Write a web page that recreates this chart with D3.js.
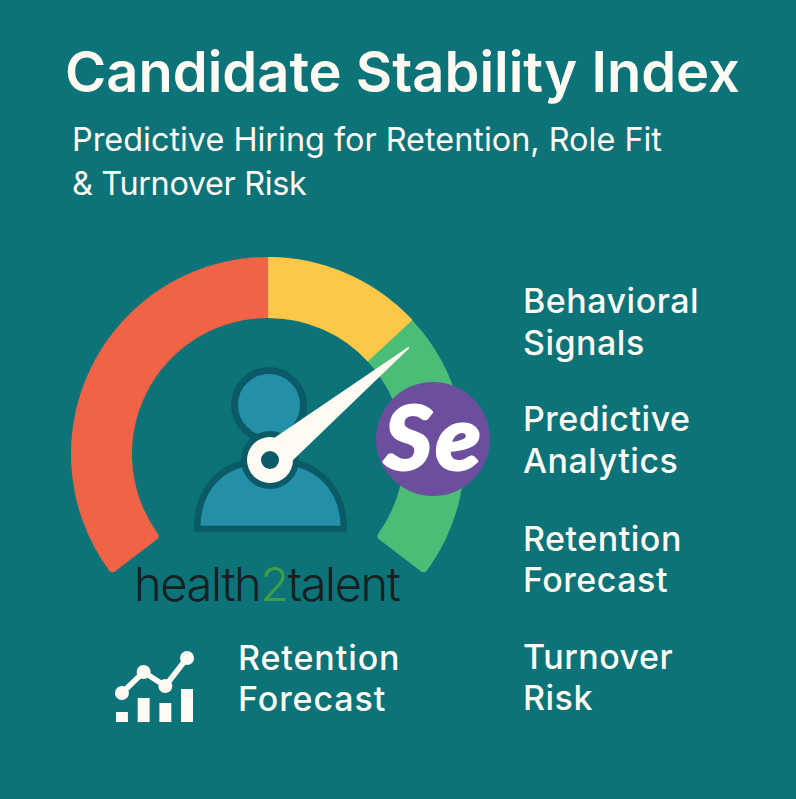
<!DOCTYPE html>
<html>
<head>
<meta charset="utf-8">
<script src="https://cdn.jsdelivr.net/npm/d3@7"></script>
<style>
html, body { margin: 0; padding: 0; background: #0c7378; }
svg { display: block; }
text { font-family: Inter, "Open Sans", sans-serif; }
</style>
</head>
<body>
<div id="viz"></div>
<script>
var titleText = "Candidate Stability Index";
var subtitleLines = ["Predictive Hiring for Retention, Role Fit", "& Turnover Risk"];
var sideLabels = ["Behavioral", "Signals", "Predictive", "Analytics", "Retention", "Forecast", "Turnover", "Risk"];
var iconLabels = ["Retention", "Forecast"];

// gauge bands on a 0-100 score
var bandStarts = [0, 50, 68.5];
var bandEnds = [50, 68.5, 100];
var bandColors = ["#f06346", "#fdc748", "#4bbd76"];
var needleScore = 70;

// small icon, bottom left
var iconBarValues = [10, 24, 19, 33];
var iconLineValues = [29, 50, 36, 64];

var width = 796,
	height = 799,
	white = "#fffaf2",
	darkTeal = "#0a5a68",
	personBlue = "#2390a8";

var svg = d3.select("#viz")
	.append("svg")
	.attr("width", width)
	.attr("height", height)
	.style("background-color", "#0c7378");

// Title and subtitle
svg.append("text")
	.attr("x", 65)
	.attr("y", 92)
	.style("font-size", "56px")
	.style("font-weight", 600)
	.style("fill", white)
	.text(titleText);

svg.selectAll(".subtitle")
	.data(subtitleLines)
	.enter()
	.append("text")
	.attr("class", "subtitle")
	.attr("x", 72)
	.attr("y", (d, i) => 151 + i * 44)
	.style("font-size", "32.4px")
	.style("letter-spacing", (d, i) => i ? "-0.35px" : null)
	.style("fill", white)
	.text(d => d);

// Gauge
var gaugeAngle = d3.scaleLinear([0, 100], [-127.5 * Math.PI / 180, 127.5 * Math.PI / 180]);
var arc = d3.arc().innerRadius(136).outerRadius(197);
var gauge = svg.append("g").attr("transform", "translate(268,454)");

// red and green overshoot under yellow so only the outer ends get rounded
gauge.append("path")
	.attr("d", arc.cornerRadius(4)({startAngle: gaugeAngle(bandStarts[0]), endAngle: gaugeAngle(bandEnds[0] + 3)}))
	.style("fill", bandColors[0]);
gauge.append("path")
	.attr("d", arc.cornerRadius(4)({startAngle: gaugeAngle(bandStarts[2] - 3), endAngle: gaugeAngle(bandEnds[2])}))
	.style("fill", bandColors[2]);
gauge.append("path")
	.attr("d", arc.cornerRadius(0)({startAngle: gaugeAngle(bandStarts[1]), endAngle: gaugeAngle(bandEnds[1])}))
	.style("fill", bandColors[1]);

// Person
svg.append("circle")
	.attr("cx", 269)
	.attr("cy", 405)
	.attr("r", 34.5)
	.style("fill", personBlue)
	.style("stroke", darkTeal)
	.style("stroke-width", 7);

svg.append("path")
	.attr("d", "M197,529 C197,495 215,470 245,463 L295,463 C325,470 344,495 344,529 Z")
	.style("fill", personBlue)
	.style("stroke", darkTeal)
	.style("stroke-width", 6.5)
	.style("stroke-linejoin", "round");

// Needle and hub
var hub = svg.append("g").attr("transform", "translate(270,460)");

hub.append("circle").attr("r", 29).style("fill", darkTeal);

var needle = d3.path();
needle.moveTo(-14.5, -18);
needle.lineTo(-0.8, -178);
needle.quadraticCurveTo(0, -180, 0.8, -178);
needle.lineTo(14.5, -18);
needle.closePath();

hub.append("path")
	.attr("d", needle.toString())
	.attr("transform", `rotate(${gaugeAngle(needleScore) * 180 / Math.PI})`)
	.style("fill", white);

hub.append("circle").attr("r", 23).style("fill", white);
hub.append("circle").attr("r", 9).style("fill", darkTeal);

// Se badge
svg.append("circle")
	.attr("cx", 433)
	.attr("cy", 439)
	.attr("r", 57)
	.style("fill", "#6b4e9e");

svg.append("text")
	.attr("transform", "translate(434,470) scale(1.04,1)")
	.attr("text-anchor", "middle")
	.style("font-family", "Lato, sans-serif")
	.style("font-size", "90px")
	.style("font-weight", 900)
	.style("font-style", "italic")
	.style("letter-spacing", "3px")
	.style("fill", "white")
	.style("stroke", "white")
	.style("stroke-width", 2)
	.style("stroke-linejoin", "round")
	.text("Se");

// health2talent logo
var logo = svg.append("text")
	.attr("x", 134)
	.attr("y", 601)
	.style("font-size", "47px")
	.style("font-weight", 300)
	.style("letter-spacing", "-1.4px")
	.style("fill", "#17201f");
logo.append("tspan").text("health");
logo.append("tspan").style("fill", "#3f9e45").text("2");
logo.append("tspan").text("talent");

// Right column labels
var labelBaselines = [313, 355, 431, 473, 551, 592, 669, 710];
svg.selectAll(".side-label")
	.data(sideLabels)
	.enter()
	.append("text")
	.attr("class", "side-label")
	.attr("x", 523)
	.attr("y", (d, i) => labelBaselines[i])
	.style("font-size", "34px")
	.style("font-weight", 500)
	.style("letter-spacing", "0.5px")
	.style("fill", white)
	.text(d => d);

svg.selectAll(".icon-label")
	.data(iconLabels)
	.enter()
	.append("text")
	.attr("class", "icon-label")
	.attr("x", 238)
	.attr("y", (d, i) => 670 + i * 41)
	.style("font-size", "34px")
	.style("font-weight", 500)
	.style("letter-spacing", "0.9px")
	.style("fill", white)
	.text(d => d);

// Chart icon
var iconX = d3.scaleBand(d3.range(iconBarValues.length), [116, 193]).paddingInner(0.45);
var iconY = d3.scaleLinear([0, 64], [722, 658]);
var iconLine = d3.line()
	.x((d, i) => iconX(i) + iconX.bandwidth() / 2)
	.y(d => iconY(d));

svg.selectAll(".icon-bar")
	.data(iconBarValues)
	.enter()
	.append("rect")
	.attr("class", "icon-bar")
	.attr("x", (d, i) => iconX(i))
	.attr("y", d => iconY(d))
	.attr("width", iconX.bandwidth())
	.attr("height", d => iconY(0) - iconY(d))
	.style("fill", white);

svg.append("path")
	.attr("d", iconLine(iconLineValues))
	.style("fill", "none")
	.style("stroke", white)
	.style("stroke-width", 5.5);

svg.selectAll(".icon-dot")
	.data(iconLineValues)
	.enter()
	.append("circle")
	.attr("class", "icon-dot")
	.attr("cx", (d, i) => iconX(i) + iconX.bandwidth() / 2)
	.attr("cy", d => iconY(d))
	.attr("r", 7)
	.style("fill", white);
</script>
</body>
</html>
